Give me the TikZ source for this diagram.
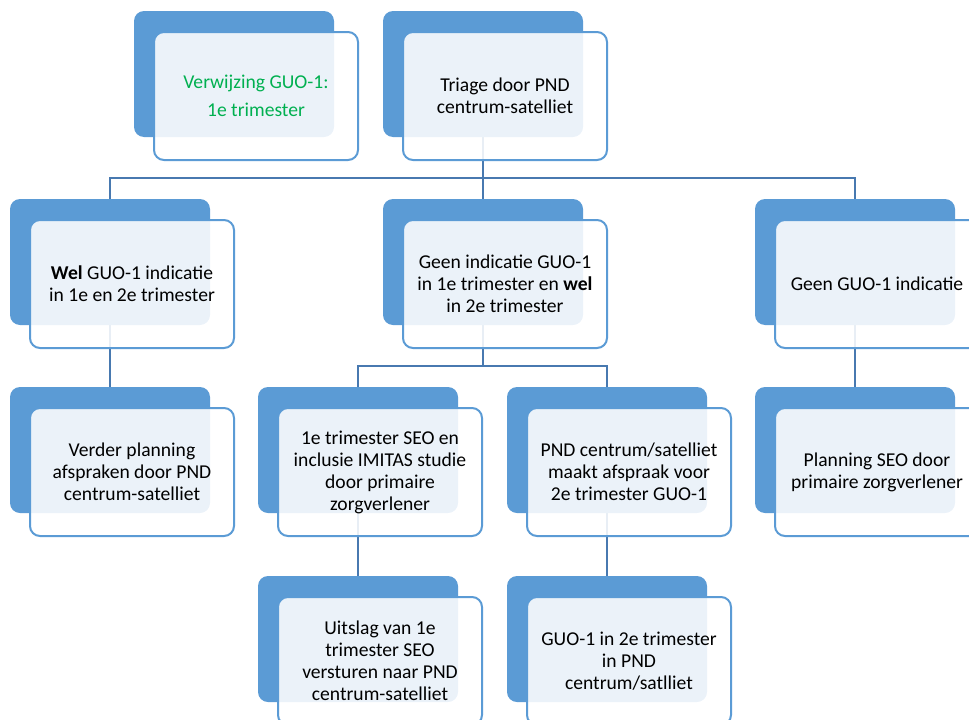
\documentclass[tikz,border=0pt]{standalone}
\usepackage{fontspec}
\setmainfont{Carlito}
\usetikzlibrary{calc,backgrounds}
\definecolor{boxblue}{RGB}{91,155,213}
\definecolor{linkblue}{RGB}{72,121,176}
\definecolor{textgreen}{RGB}{0,176,80}
\tikzset{
  backbox/.style={fill=boxblue, rounded corners=10pt, minimum width=200pt, minimum height=126pt, inner sep=0pt},
  frontbox/.style={draw=boxblue, line width=2pt, fill=white, fill opacity=0.88, text opacity=1, rounded corners=10pt, minimum width=204pt, minimum height=128pt, inner sep=0pt, align=center, font=\fontsize{19.6}{22}\selectfont},
  link/.style={draw=linkblue, line width=2pt}
}
\newcommand{\orgbox}[4][]{
  \node[backbox] (#2-back) at (#3) {};
  \node[frontbox,#1] (#2) at ($ (#2-back.center) + (22,22) $) {#4};
}

\begin{document}
\begin{tikzpicture}[x=1pt,y=-1pt]
             \useasboundingbox (0,0) rectangle (969,720);
             \clip (0,0) rectangle (969,720);
             \orgbox[text=textgreen]{verwijzing}{234,74}{Verwijzing GUO-1:\\[6pt]1e trimester}
             \orgbox{triage}{483,74}{Triage door PND\\centrum-satelliet}
             \orgbox{wel}{110,262}{\textbf{Wel} GUO-1 indicatie\\in 1e en 2e trimester}
             \orgbox{geenwel}{483,262}{Geen indicatie GUO-1\\in 1e trimester en \textbf{wel}\\in 2e trimester}
             \orgbox{geen}{855,262}{Geen GUO-1 indicatie}
             \orgbox{verder}{110,450}{Verder planning\\afspraken door PND\\centrum-satelliet}
             \orgbox{seo}{358,450}{1e trimester SEO en\\inclusie IMITAS studie\\door primaire\\zorgverlener}
             \orgbox{afspraak}{607,450}{PND centrum/satelliet\\maakt afspraak voor\\2e trimester GUO-1}
             \orgbox{planning}{855,450}{Planning SEO door\\primaire zorgverlener}
             \orgbox{uitslag}{358,639}{Uitslag van 1e\\trimester SEO\\versturen naar PND\\centrum-satelliet}
             \orgbox{guo}{607,639}{GUO-1 in 2e trimester\\in PND\\centrum/satlliet}
             \begin{scope}[on background layer]
               \draw[link] (triage-back.south) -- ++(0,41) -| (wel-back.north);
               \draw[link] (triage-back.south) -- ++(0,41) -| (geen-back.north);
               \draw[link] (triage-back.south) -- (geenwel-back.north);
               \draw[link] (geenwel-back.south) -- ++(0,41) -| (seo-back.north);
               \draw[link] (geenwel-back.south) -- ++(0,41) -| (afspraak-back.north);
               \foreach \a/\b in {wel/verder,geen/planning,seo/uitslag,afspraak/guo}
                 \draw[link] (\a-back.south) -- (\b-back.north);
             \end{scope}
           \end{tikzpicture}
\end{document}
